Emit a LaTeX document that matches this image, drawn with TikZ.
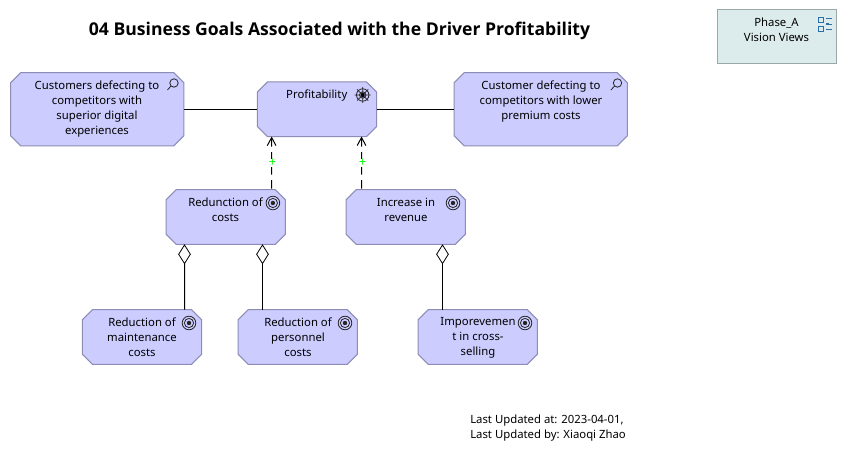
\documentclass[tikz,border=0pt]{standalone}
\usepackage{fontspec}
\setmainfont{Noto Sans}
\newfontfamily\titlefont{Open Sans}
\usetikzlibrary{arrows.meta}
\definecolor{boxfill}{HTML}{CCCCFF}
\definecolor{boxline}{HTML}{8C8CB4}
\definecolor{grpfill}{HTML}{DCEBEB}
\definecolor{grpline}{HTML}{9AA8A8}
\definecolor{iconblue}{HTML}{2A6EAA}
\tikzset{
  x=.75pt,y=-.75pt,
  txt/.style={font=\fontsize{8.5pt}{11.25pt}\selectfont,align=center,inner sep=0pt,text=black},
  elem/.style={inner sep=0pt,minimum width=89pt,minimum height=40.5pt},
  wide/.style={elem,minimum width=129.5pt,minimum height=54.4pt},
  chamf/.style={draw=boxline,fill=boxfill,line width=.75pt},
  assoc/.style={draw=black,line width=.75pt},
  infl/.style={draw=black,line width=.75pt,dash pattern=on 6.5pt off 4pt,{Straight Barb[length=6pt,width=6.5pt]}-},
  aggr/.style={draw=black,line width=.75pt,{Diamond[open,length=15pt,width=9.5pt,line width=.6pt]}-},
  plusmark/.style={text=green,font=\fontsize{9.5pt}{9.5pt}\selectfont,inner sep=.5pt,fill=white},
  icon/.style={draw=black!85,line width=.6pt},
  pics/lens/.style={code={\draw[icon] (1.5,-1.5) circle (4.2) (-1.5,1.5) -- (-5,5.5);}},
  pics/goal/.style={code={\draw[icon] (0,0) circle (6.8) (0,0) circle (4.6);\fill[black!85] (0,0) circle (2.2);}},
  pics/driver/.style={code={\draw[icon] (0,0) circle (6.2) (0,0) circle (3.2);\draw[icon,line width=.5pt] (-8,0)--(8,0) (0,-8)--(0,8) (-5.6,-5.6)--(5.6,5.6) (-5.6,5.6)--(5.6,-5.6);\fill[black] (0,0) circle (2);}},
}
\newcommand{\chamfbox}[1]{\draw[chamf]
  ([xshift=7.5pt]#1.north west) -- ([xshift=-7.5pt]#1.north east) -- ([yshift=-7.5pt]#1.north east)
  -- ([yshift=7.5pt]#1.south east) -- ([xshift=-7.5pt]#1.south east) -- ([xshift=7.5pt]#1.south west)
  -- ([yshift=7.5pt]#1.south west) -- ([yshift=-7.5pt]#1.north west) -- cycle;}
\begin{document}
\begin{tikzpicture}
\useasboundingbox (0,0) rectangle (847,463);
\fill[white] (0,0) rectangle (847,463);
\node[font=\fontsize{13.2pt}{17pt}\selectfont\titlefont\bfseries,inner sep=0pt] (title) at (339.5,30.5) {04 Business Goals Associated with the Driver Profitability};
% elements
\node[wide] (defa) at (97.2,109.25) {};
\node[elem] (profit) at (317,109.25) {};
\node[wide] (defb) at (540.7,109.25) {};
\node[elem] (redcost) at (225.7,217) {};
\node[elem] (increase) at (405.7,217) {};
\node[elem] (maint) at (142,337) {};
\node[elem] (person) at (297.7,337) {};
\node[elem] (impor) at (477.7,337) {};
\chamfbox{defa}\chamfbox{profit}\chamfbox{defb}\chamfbox{redcost}\chamfbox{increase}\chamfbox{maint}\chamfbox{person}\chamfbox{impor}
\node[draw=grpline,fill=grpfill,line width=.75pt,inner sep=0pt,minimum width=89.25pt,minimum height=40.5pt] (phase) at (776.5,37) {};
% texts
\node[txt,anchor=north] (t1) at (97,80.5) {Customers defecting to\\competitors with\\superior digital\\experiences};
\node[txt,anchor=north] (t2) at (316.75,89.5) {Profitability};
\node[txt,anchor=north] (t3) at (541,80.5) {Customer defecting to\\competitors with lower\\premium costs};
\node[txt,anchor=north] (t4) at (225.5,197.5) {Redunction of\\costs};
\node[txt,anchor=north] (t5) at (406,197.5) {Increase in\\revenue};
\node[txt,anchor=north] (t6) at (142,317.5) {Reduction of\\maintenance\\costs};
\node[txt,anchor=north] (t7) at (298,317.5) {Reduction of\\personnel\\costs};
\node[txt,anchor=north] (t8) at (478,317.5) {Imporevemen\\t in cross-\\selling};
\node[txt,anchor=north] (t9) at (776.5,17.5) {Phase\_A\\Vision Views};
\node[txt,anchor=north west,align=left] (upd) at (470,414.5) {Last Updated at: 2023-04-01,\\Last Updated by: Xiaoqi Zhao};
% connectors
\draw[assoc] (defa.east) -- (profit.west);
\draw[assoc] (profit.east) -- (defb.west);
\draw[infl] ([xshift=-34pt]profit.south) -- ([xshift=34.4pt]redcost.north);
\draw[infl] ([xshift=33.4pt]profit.south) -- ([xshift=-33.1pt]increase.north);
\draw[aggr] ([xshift=-30.9pt]redcost.south) -- ([xshift=31.9pt]maint.north);
\draw[aggr] ([xshift=27.6pt]redcost.south) -- ([xshift=-26.4pt]person.north);
\draw[aggr] ([xshift=27.6pt]increase.south) -- ([xshift=-26.4pt]impor.north);
\node[plusmark] (p1) at (272.5,163) {+};
\node[plusmark] (p2) at (362.5,163) {+};
% icons
\pic at (172.5,84.5) {lens};
\pic at (616,84.5) {lens};
\pic at (362.7,95) {driver};
\pic at (272.9,203) {goal};
\pic at (453,203) {goal};
\pic at (189,323) {goal};
\pic at (345,323) {goal};
\pic at (525,323) {goal};
\draw[iconblue,line width=.6pt] (818.5,17.5) rectangle (823.5,22.5) (818.5,26) rectangle (823.5,31)
  (826,18.5)--(832,18.5) (826,29.5)--(832,29.5) (829,24)--(832,24);
\fill[iconblue] (826,23) rectangle (828.5,25);
\end{tikzpicture}
\end{document}
